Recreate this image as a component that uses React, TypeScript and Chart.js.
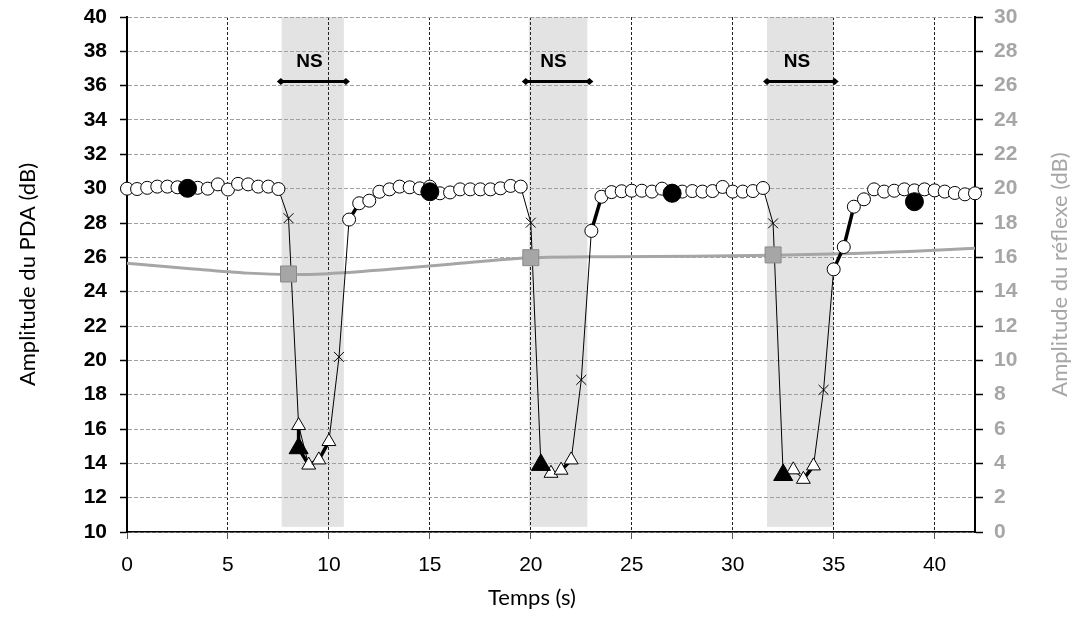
import { useEffect, useRef } from "react";
import { Chart, registerables } from "chart.js";

Chart.register(...registerables);

// ---------- data ----------
const mainTime = [
  0, 0.5, 1, 1.5, 2, 2.5, 3, 3.5, 4, 4.5, 5, 5.5, 6, 6.5, 7, 7.5,
  8, 8.5, 9, 9.5, 10, 10.5,
  11, 11.5, 12, 12.5, 13, 13.5, 14, 14.5, 15, 15.5, 16, 16.5, 17, 17.5, 18, 18.5, 19, 19.5,
  20, 20.5, 21, 21.5, 22, 22.5,
  23, 23.5, 24, 24.5, 25, 25.5, 26, 26.5, 27, 27.5, 28, 28.5, 29, 29.5, 30, 30.5, 31, 31.5,
  32, 32.5, 33, 33.5, 34, 34.5,
  35, 35.5, 36, 36.5, 37, 37.5, 38, 38.5, 39, 39.5, 40, 40.5, 41, 41.5, 42,
];
const mainPda = [
  30.0, 29.98, 30.05, 30.12, 30.12, 30.08, 30.05, 30.05, 30.0, 30.25, 29.95, 30.28, 30.25, 30.12, 30.12, 29.98,
  28.28, 16.2, 13.9, 14.2, 15.27, 20.2,
  28.2, 29.15, 29.3, 29.82, 29.96, 30.12, 30.08, 30.02, 30.12, 29.73, 29.78, 29.96, 29.96, 29.96, 29.96, 30.02, 30.16, 30.12,
  28.02, 13.9, 13.42, 13.6, 14.2, 18.86,
  27.54, 29.53, 29.8, 29.85, 29.88, 29.88, 29.83, 30.0, 29.88, 29.83, 29.86, 29.83, 29.86, 30.1, 29.83, 29.83, 29.86, 30.04,
  27.98, 13.32, 13.62, 13.07, 13.85, 18.28,
  25.3, 26.6, 28.95, 29.38, 29.96, 29.83, 29.88, 29.96, 29.9, 29.96, 29.9, 29.83, 29.75, 29.67, 29.73,
];
const mainMarker = [
  "o", "o", "o", "o", "o", "o", "o", "o", "o", "o", "o", "o", "o", "o", "o", "o",
  "x", "t", "t", "t", "t", "x",
  "o", "o", "o", "o", "o", "o", "o", "o", "o", "o", "o", "o", "o", "o", "o", "o", "o", "o",
  "x", "t", "t", "t", "t", "x",
  "o", "o", "o", "o", "o", "o", "o", "o", "o", "o", "o", "o", "o", "o", "o", "o", "o", "o",
  "x", "t", "t", "t", "t", "x",
  "o", "o", "o", "o", "o", "o", "o", "o", "o", "o", "o", "o", "o", "o", "o",
];

const thickTime = [8.5, 8.5, 9.0, 9.5, 10.0, 10.5, 11.0, 11.5, 20, 21.5, 22.0, 22.5, 23.0, 23.5, 30, 33.5, 34.0, 34.5, 35.0, 35.5, 36.0];
const thickPda = [16.2, 14.88, 13.9, 14.2, 15.27, null, 28.2, 29.15, null, 13.6, 14.2, null, 27.54, 29.53, null, 13.07, 13.85, null, 25.3, 26.6, 28.95];

const filledTime = [3, 15, 27, 39, 8.5, 20.5, 32.5];
const filledPda = [30.02, 29.82, 29.73, 29.24, 14.88, 13.91, 13.32];
const filledShape = ["circle", "circle", "circle", "circle", "triangle", "triangle", "triangle"];

const reflexTime = [0, 3, 6, 8, 10, 13, 16, 20, 24, 28, 32, 36, 39, 42];
const reflexValue = [15.65, 15.35, 15.08, 15.0, 15.05, 15.3, 15.6, 15.97, 16.04, 16.06, 16.12, 16.22, 16.35, 16.53];

const squareTime = [8.0, 20.0, 32.0];
const squareValue = [15.03, 15.98, 16.14];

const bandStart = [7.66, 19.9, 31.7];
const bandEnd = [10.74, 22.8, 35.0];
const bandBottom = 10.3;

const nsStart = [7.62, 19.75, 31.7];
const nsEnd = [10.84, 22.9, 35.05];
const nsLevel = 36.25;
const nsTextLevel = 37.4;
const nsLabel = "NS";

const leftTitle = "Amplitude du PDA (dB)";
const rightTitle = "Amplitude du réflexe (dB)";
const bottomTitle = "Temps (s)";

// ---------- styles ----------
const GRAY = "#a6a6a6";
const TICK_FONT = "Liberation Sans, Arial, sans-serif";
const TITLE_FONT = "Lato, 'Open Sans', sans-serif";

const decorPlugin = {
  id: "decor",
  beforeDraw(chart: any) {
    const { ctx, scales } = chart;
    const x = scales.x;
    const y = scales.y;
    ctx.save();
    ctx.fillStyle = "#e3e3e3";
    for (let i = 0; i < bandStart.length; i++) {
      const x1 = x.getPixelForValue(bandStart[i]);
      const x2 = x.getPixelForValue(bandEnd[i]);
      const y1 = y.getPixelForValue(40);
      const y2 = y.getPixelForValue(bandBottom);
      ctx.fillRect(x1, y1, x2 - x1, y2 - y1);
    }
    ctx.restore();
  },
  afterDatasetsDraw(chart: any) {
    const { ctx, scales } = chart;
    const x = scales.x;
    const y = scales.y;
    ctx.save();
    const yy = y.getPixelForValue(nsLevel);
    const ty = y.getPixelForValue(nsTextLevel);
    for (let i = 0; i < nsStart.length; i++) {
      const x1 = x.getPixelForValue(nsStart[i]);
      const x2 = x.getPixelForValue(nsEnd[i]);
      ctx.strokeStyle = "#000";
      ctx.lineWidth = 3;
      ctx.beginPath();
      ctx.moveTo(x1, yy);
      ctx.lineTo(x2, yy);
      ctx.stroke();
      ctx.fillStyle = "#000";
      for (const px of [x1, x2]) {
        ctx.beginPath();
        ctx.moveTo(px - 4, yy);
        ctx.lineTo(px, yy - 3.5);
        ctx.lineTo(px + 4, yy);
        ctx.lineTo(px, yy + 3.5);
        ctx.closePath();
        ctx.fill();
      }
      ctx.font = "bold 19px " + TICK_FONT;
      ctx.textAlign = "center";
      ctx.textBaseline = "middle";
      ctx.fillText(nsLabel, (x1 + x2) / 2 - 4, ty);
    }
    ctx.restore();
  },
  afterDraw(chart: any) {
    const { ctx, chartArea } = chart;
    const cy = (chartArea.top + chartArea.bottom) / 2;
    ctx.save();
    ctx.font = "22px " + TITLE_FONT;
    ctx.textAlign = "center";
    ctx.textBaseline = "middle";
    ctx.fillStyle = "#000";
    ctx.save();
    ctx.translate(28, cy);
    ctx.rotate(-Math.PI / 2);
    ctx.fillText(leftTitle, 0, 0);
    ctx.restore();
    ctx.save();
    ctx.fillStyle = GRAY;
    ctx.translate(1060, cy);
    ctx.rotate(-Math.PI / 2);
    ctx.fillText(rightTitle, 0, 0);
    ctx.restore();
    ctx.fillText(bottomTitle, 532, 598);
    ctx.restore();
  },
};

const fixVertical = (w: number) => (scale: any) => {
  scale.width = w;
  scale.paddingTop = 0;
  scale.paddingBottom = 0;
};

export default function App() {
  const ref = useRef<HTMLCanvasElement | null>(null);

  useEffect(() => {
    if (!ref.current) return;
    const mainData = mainTime.map((t, i) => ({ x: t, y: mainPda[i] }));
    const thickData = thickTime.map((t, i) => ({ x: t, y: thickPda[i] }));
    const filledData = filledTime.map((t, i) => ({ x: t, y: filledPda[i] }));
    const reflexData = reflexTime.map((t, i) => ({ x: t, y: reflexValue[i] }));
    const squareData = squareTime.map((t, i) => ({ x: t, y: squareValue[i] }));

    const chart = new Chart(ref.current, {
      type: "line",
      data: {
        datasets: [
          {
            data: reflexData,
            yAxisID: "y1",
            borderColor: GRAY,
            borderWidth: 3,
            pointRadius: 0,
            tension: 0.4,
            cubicInterpolationMode: "monotone",
            order: 5,
          },
          {
            data: thickData,
            yAxisID: "y",
            borderColor: "#000",
            borderWidth: 3.5,
            pointRadius: 0,
            spanGaps: false,
            order: 4,
          },
          {
            data: mainData,
            yAxisID: "y",
            borderColor: "#000",
            borderWidth: 1,
            pointStyle: mainMarker.map((m) => (m === "o" ? "circle" : m === "t" ? "triangle" : "crossRot")),
            pointRadius: mainMarker.map((m) => (m === "o" ? 6.5 : m === "t" ? 8 : 7)),
            pointBackgroundColor: "#fff",
            pointBorderColor: "#000",
            pointBorderWidth: 1,
            clip: false as any,
            order: 3,
          },
          {
            data: squareData,
            yAxisID: "y1",
            showLine: false,
            pointStyle: "rect",
            pointRadius: 11.3,
            pointBackgroundColor: GRAY,
            pointBorderColor: "#8a8a8a",
            pointBorderWidth: 1,
            order: 2,
          },
          {
            data: filledData,
            yAxisID: "y",
            showLine: false,
            pointStyle: filledShape as any,
            pointRadius: filledShape.map((s) => (s === "circle" ? 9 : 11)),
            pointBackgroundColor: "#000",
            pointBorderColor: "#000",
            pointBorderWidth: 1,
            order: 1,
          },
        ] as any,
      },
      options: {
        animation: false,
        responsive: true,
        maintainAspectRatio: false,
        layout: { padding: { top: 17, left: 0, right: 0, bottom: 0 } },
        plugins: { legend: { display: false }, tooltip: { enabled: false } },
        events: [],
        scales: {
          x: {
            type: "linear",
            position: "bottom",
            min: 0,
            max: 42,
            afterBuildTicks: (scale: any) => {
              scale.ticks = scale.ticks.filter((t: any) => t.value % 5 === 0);
            },
            afterFit: (scale: any) => {
              scale.height = 99;
              scale.paddingLeft = 0;
              scale.paddingRight = 0;
            },
            ticks: {
              stepSize: 5,
              color: "#000",
              padding: 14,
              font: { family: TICK_FONT, size: 21 },
            },
            grid: {
              color: "#222",
              lineWidth: 1,
              tickLength: 7,
              tickColor: "#555",
              tickWidth: 1,
              tickBorderDash: [],
            },
            border: { color: "#000", width: 1.5, dash: [3, 2] },
          },
          y: {
            type: "linear",
            position: "left",
            min: 10,
            max: 40,
            afterFit: fixVertical(127),
            ticks: {
              stepSize: 2,
              color: "#000",
              padding: 13,
              font: { family: TICK_FONT, size: 21, weight: "bold" },
            },
            grid: {
              color: "#a0a0a0",
              lineWidth: 1,
              tickLength: 7,
              tickColor: "#000",
              tickWidth: 1.5,
              tickBorderDash: [],
            },
            border: { color: "#000", width: 2, dash: [4, 2] },
          },
          y1: {
            type: "linear",
            position: "right",
            min: 0,
            max: 30,
            afterFit: fixVertical(102),
            ticks: {
              stepSize: 2,
              color: GRAY,
              padding: 11,
              font: { family: TICK_FONT, size: 21, weight: "bold" },
            },
            grid: {
              drawOnChartArea: false,
              tickLength: 8,
              tickColor: "#000",
              tickWidth: 1.5,
            },
            border: { color: "#000", width: 2 },
          },
        },
      } as any,
      plugins: [decorPlugin],
    });
    return () => chart.destroy();
  }, []);

  return (
    <div style={{ position: "absolute", left: 0, top: 0, width: 1077, height: 631 }}>
      <canvas ref={ref} />
    </div>
  );
}
